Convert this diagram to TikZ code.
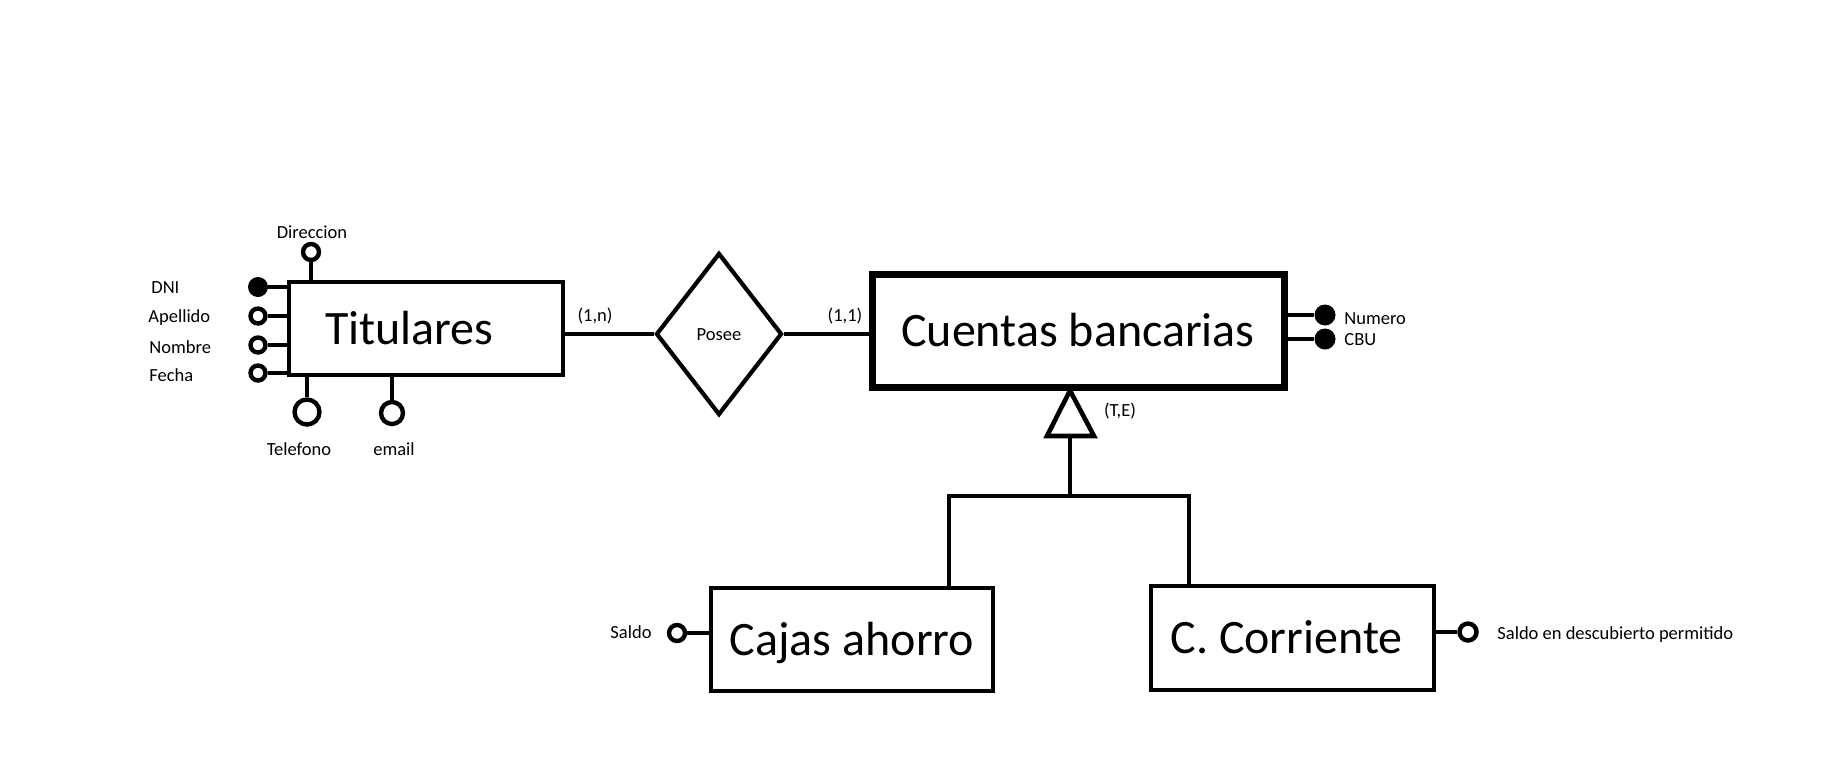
\documentclass[tikz,border=0pt]{standalone}
\usepackage{fontspec}
\setmainfont{Carlito}
\usetikzlibrary{shapes.geometric,calc}
\begin{document}
\begin{tikzpicture}[x=0.5pt,y=-0.5pt,
  ent/.style={draw, rectangle, line width=2.4pt, inner sep=0pt, font=\fontsize{24}{28}\selectfont, text height=15.5pt, text depth=0pt},
  attr/.style={draw, circle, line width=2.2pt, inner sep=0pt, minimum size=7.5pt, fill=white},
  keyattr/.style={circle, fill=black, inner sep=0pt, minimum size=10pt},
  lbl/.style={inner sep=0pt, font=\fontsize{9.25}{11}\selectfont, text height=6pt, text depth=0pt},
  conn/.style={line width=2.2pt},
]
\useasboundingbox (0,0) rectangle (1842,772);

% entities
\node[ent, minimum width=137pt, minimum height=46.5pt, text width=101pt, inner xsep=18pt, align=left] (tit) at (426,328.5) {Titulares};
\node[diamond, draw, line width=2.1pt, minimum width=63pt, minimum height=81pt, lbl] (pos) at (719,334) {Posee};
\node[ent, line width=3.5pt, minimum width=206pt, minimum height=56.5pt] (cb) at (1078,330.5) {Cuentas bancarias};
\node[ent, minimum width=141pt, minimum height=51.5pt] (ca) at (852,639.5) {Cajas ahorro};
\node[ent, minimum width=141.5pt, minimum height=52pt] (cc) at (1292.5,638) {C. Corriente\hspace*{6pt}};

% relationship
\draw[conn] (pos.west) -- (pos.west -| tit.east);
\draw[conn] (pos.east) -- (pos.east -| cb.west);
\node[lbl] (c1n) at (595,315) {(1,n)};
\node[lbl] (c11) at (845,315) {(1,1)};

% Titulares attributes
\node[attr, minimum size=8pt] (dir) at (311,252) {};
\draw[conn] (dir) -- (dir |- tit.north);
\node[lbl] (ldir) at (312,232) {Direccion};

\node[keyattr] (dni) at (258,287) {};
\draw[conn] (dni) -- (dni -| tit.west);
\node[lbl, anchor=west] (ldni) at (151,287) {DNI};

\node[attr] (ape) at (258,316) {};
\draw[conn] (ape) -- (ape -| tit.west);
\node[lbl, anchor=west] (lape) at (148,316) {Apellido};

\node[attr] (nom) at (258,345) {};
\draw[conn] (nom) -- (nom -| tit.west);
\node[lbl, anchor=west] (lnom) at (149,347) {Nombre};

\node[attr] (fec) at (258,373) {};
\draw[conn] (fec) -- (fec -| tit.west);
\node[lbl, anchor=west] (lfec) at (149,375) {Fecha};

\node[attr, minimum size=12.5pt] (tel) at (307,412) {};
\draw[conn] (tel) -- (tel |- tit.south);
\node[lbl] (ltel) at (299,449) {Telefono};

\node[attr, minimum size=11pt] (ema) at (392,413) {};
\draw[conn] (ema) -- (ema |- tit.south);
\node[lbl] (lema) at (394,449) {email};

% Cuentas attributes
\node[keyattr, minimum size=10.5pt] (num) at (1325,315) {};
\draw[conn] (num) -- (num -| cb.east);
\node[lbl, anchor=west] (lnum) at (1344,318) {Numero};
\node[keyattr, minimum size=10.5pt] (cbu) at (1325,339) {};
\draw[conn] (cbu) -- (cbu -| cb.east);
\node[lbl, anchor=west] (lcbu) at (1344,339) {CBU};

% generalization
\coordinate (apex) at (cb.south -| 1070,0);
\coordinate (isa) at (1070,436);
\coordinate (isaL) at (1047,436);
\coordinate (isaR) at (1094,436);
\coordinate (bar) at (1070,496);
\coordinate (barL) at (949,496);
\coordinate (barR) at (1189,496);
\draw[line width=2.3pt, fill=white, line join=miter] (apex) -- (isaL) -- (isaR) -- cycle;
\draw[conn] (isa) -- (bar);
\draw[conn, line join=miter] (barL |- ca.north) -- (barL) -- (barR) -- (barR |- cc.north);
\node[lbl] (lte) at (1120,410) {(T,E)};

% subclass attributes
\node[attr, minimum size=8pt] (sal) at (677,633) {};
\draw[conn] (sal) -- (sal -| ca.west);
\node[lbl] (lsal) at (631,632) {Saldo};

\node[attr, minimum size=8.5pt] (sdp) at (1468,632) {};
\draw[conn] (sdp) -- (sdp -| cc.east);
\node[lbl, anchor=west] (lsdp) at (1497,633) {Saldo en descubierto permitido};
\end{tikzpicture}
\end{document}
